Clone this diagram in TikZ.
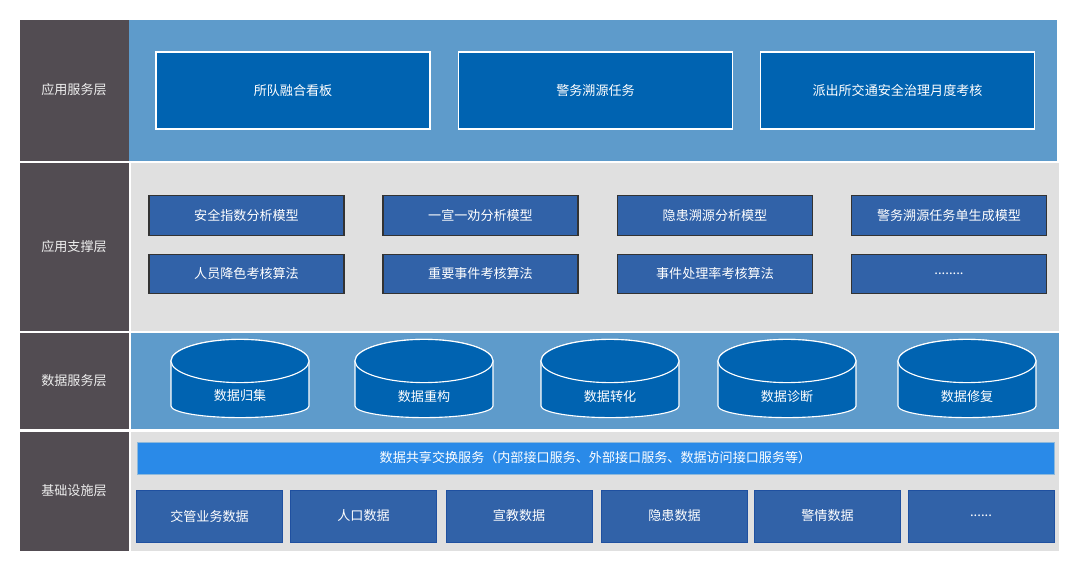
\documentclass[tikz,border=0pt]{standalone}
\usepackage{fontspec}
\usepackage{xcolor}
\usepackage{tikz}
\newfontfamily\cjk{Noto Sans CJK SC}
\definecolor{SlateGray}{HTML}{524C52}
\definecolor{SkyBlue}{HTML}{5E9BCB}
\definecolor{RoyalBlue}{HTML}{0063B1}
\definecolor{SteelBlue}{HTML}{3162A8}
\definecolor{PaleGray}{HTML}{E0E0E0}
\definecolor{BrightBlue}{HTML}{2A8AE8}
\definecolor{EdgeBlue}{HTML}{1F50A0}
\definecolor{EdgeDark}{HTML}{333333}
\definecolor{SoftWhite}{HTML}{EEEEEE}

\begin{document}
\begin{tikzpicture}[x=0.025cm, y=-0.025cm,
        layer/.style={text=SoftWhite, font=\cjk\fontsize{9.3}{11}\selectfont},
        topbox/.style={draw=white, line width=0.8pt, fill=RoyalBlue,
                    minimum width=6.85cm, minimum height=1.925cm,
                    text=white, font=\cjk\fontsize{9.3}{11}\selectfont},
        modelbox/.style={draw=EdgeDark, line width=0.8pt, fill=SteelBlue,
                    minimum width=4.875cm, minimum height=0.99cm,
                    text=white, font=\cjk\fontsize{9.3}{11}\selectfont},
        databox/.style={draw=EdgeBlue, line width=0.6pt, fill=SteelBlue,
                    minimum width=3.65cm, minimum height=1.3cm,
                    text=white, font=\cjk\fontsize{9.3}{11}\selectfont},
        busbar/.style={draw=SkyBlue!70, line width=0.5pt, fill=BrightBlue,
                    minimum width=22.925cm, minimum height=0.8cm,
                    text=white, font=\cjk\fontsize{9.3}{11}\selectfont},
        cyl/.style={draw=white, line width=0.8pt, fill=RoyalBlue},
        cyltext/.style={text=white, font=\cjk\fontsize{9.3}{11}\selectfont}]

        \fill[white] (0,0) rectangle (1080,570);
        \useasboundingbox (0,0) rectangle (1080,570);

        % Layer backgrounds
        \fill[SlateGray]  (20,20)   rectangle (129,161);
        \fill[SkyBlue]    (129,20)  rectangle (1057,161);
        \fill[SlateGray]  (20,163)  rectangle (129,331);
        \fill[PaleGray]   (131,163) rectangle (1059,331);
        \fill[SlateGray]  (20,333)  rectangle (129,429);
        \fill[SkyBlue]    (131,333) rectangle (1059,429);
        \fill[SlateGray]  (20,432)  rectangle (129,551);
        \fill[PaleGray]   (131,432) rectangle (1059,551);

        % Layer names
        \node[layer] (appsrv)  at (74,90)  {应用服务层};
        \node[layer] (appsup)  at (74,247) {应用支撑层};
        \node[layer] (datasrv) at (74,381) {数据服务层};
        \node[layer] (infra)   at (74,491) {基础设施层};

        % Application services
        \node[topbox] (board)  at (293,90.5)   {所队融合看板};
        \node[topbox] (trace)  at (595.5,90.5) {警务溯源任务};
        \node[topbox] (assess) at (897.5,90.5) {派出所交通安全治理月度考核};

        % Models and algorithms
        \node[modelbox] (safety) at (246.5,215.5) {安全指数分析模型};
        \node[modelbox] (yxyq)   at (480.5,215.5) {一宣一劝分析模型};
        \node[modelbox] (hazard) at (715,215.5)   {隐患溯源分析模型};
        \node[modelbox] (order)  at (949,215.5)   {警务溯源任务单生成模型};
        \node[modelbox] (staff)  at (246.5,274)   {人员降色考核算法};
        \node[modelbox] (major)  at (480.5,274)   {重要事件考核算法};
        \node[modelbox] (rate)   at (715,274)     {事件处理率考核算法};
        \node[modelbox] (more)   at (949,274)     {........};

        % Data service cylinders
        \foreach \cx in {240,424,610,787,967}{
          \filldraw[cyl] ({\cx-69},361) -- ({\cx-69},406)
            arc[start angle=180, end angle=360, x radius=1.725cm, y radius=0.29cm]
            -- ({\cx+69},361)
            arc[start angle=0, end angle=180, x radius=1.725cm, y radius=0.54cm] -- cycle;
          \draw[cyl] (\cx,361) ellipse [x radius=1.725cm, y radius=0.54cm];
        }
        \node[cyltext] (collect)   at (240,396) {数据归集};
        \node[cyltext] (rebuild)   at (424,397) {数据重构};
        \node[cyltext] (convert)   at (610,397) {数据转化};
        \node[cyltext] (diagnose)  at (787,397) {数据诊断};
        \node[cyltext] (repair)    at (967,397) {数据修复};

        % Infrastructure
        \node[busbar] (exchange) at (595.5,458)
          {数据共享交换服务（内部接口服务、外部接口服务、数据访问接口服务等）};
        \node[databox] (traffic) at (209.5,516) {交管业务数据};
        \node[databox] (people)  at (363.5,516) {人口数据};
        \node[databox] (edu)     at (519,516)   {宣教数据};
        \node[databox] (risk)    at (674.5,516) {隐患数据};
        \node[databox] (alarm)   at (827.5,516) {警情数据};
        \node[databox] (etc)     at (981,516)   {......};
      \end{tikzpicture}
\end{document}
